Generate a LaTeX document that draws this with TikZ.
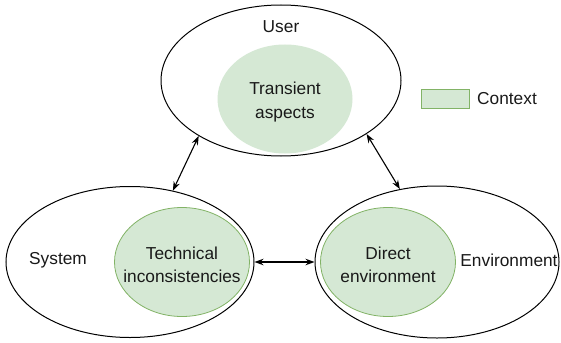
\documentclass[tikz,border=0pt]{standalone}
\usepackage{fontspec}
\setmainfont{Liberation Sans}
\usetikzlibrary{shapes.geometric,arrows.meta}
\definecolor{ctxfill}{HTML}{D5E8D4}
\definecolor{ctxline}{HTML}{82B366}
\begin{document}
\begin{tikzpicture}[x=1pt,y=-1pt,
  every node/.style={font=\fontsize{17.3}{23.5}\selectfont,text=black!90},
  area/.style={ellipse,draw,line width=1pt,fill=white,inner sep=0pt},
  ctx/.style={ellipse,fill=ctxfill,inner sep=0pt,
    minimum width=135pt,minimum height=109pt},
  inlbl/.style={align=center,yshift=-3pt},
  link/.style={line width=1.1pt,{Stealth[length=9pt,width=6.5pt]}-{Stealth[length=9pt,width=6.5pt]}}]
 \useasboundingbox (0,0) rectangle (561,342);
 % the three areas
 \node[area,minimum width=240pt,minimum height=151pt] (user) at (281,80.5) {};
 \node[area,minimum width=248pt,minimum height=151pt] (system) at (130,262) {};
 \node[area,minimum width=244pt,minimum height=152pt] (env) at (437,262) {};
 % context inside each area
 \node[ctx] (transient) at (285,99) {};
 \node[ctx,draw=ctxline,line width=0.8pt] (technical) at (182,262) {};
 \node[ctx,draw=ctxline,line width=0.8pt] (direct) at (388,262) {};
 \node[inlbl] (transientlbl) at (transient) {Transient\\aspects};
 \node[inlbl] (technicallbl) at (technical) {Technical\\inconsistencies};
 \node[inlbl] (directlbl) at (direct) {Direct\\environment};
 \node (userlbl) at (281,27) {User};
 \node (syslbl) at (58,260) {System};
 \node (envlbl) at (509,260) {Environment};
 % legend
 \node[fill=ctxfill,draw=ctxline,line width=0.8pt,minimum width=48pt,minimum height=19pt,inner sep=0pt] (key) at (445,98.5) {};
 \node[anchor=west,inner sep=0pt] (keylbl) at (477,98.5) {Context};
 % links
 \draw[link] (user.214) -- (system.59);
 \draw[link] (user.328) -- (env.117);
 \draw[link] (system.east) -- (env.west);
\end{tikzpicture}
\end{document}
